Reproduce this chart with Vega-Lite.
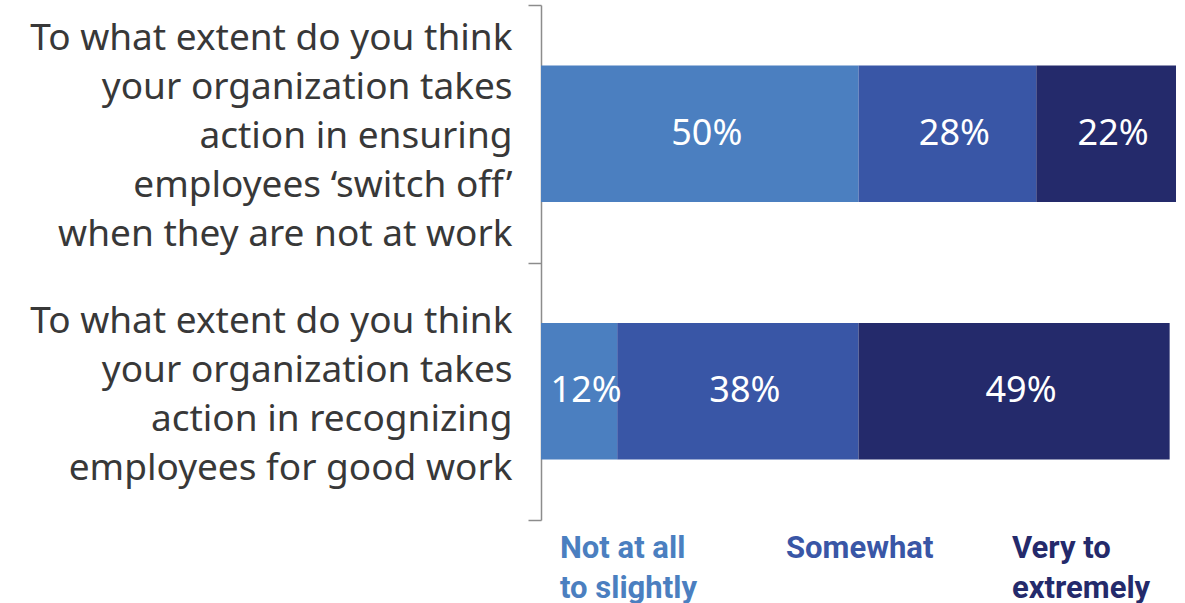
{
  "$schema": "https://vega.github.io/schema/vega-lite/v6.json",
  "width": 635,
  "height": 515,
  "autosize": "none",
  "padding": {"left": 541, "top": 5, "right": 9, "bottom": 83},
  "background": "white",
  "config": {"view": {"stroke": null}},
  "data": {
    "values": [
      {"question": "To what extent do you think\nyour organization takes\naction in ensuring\nemployees ‘switch off’\nwhen they are not at work", "response": "Not at all to slightly", "share": 0.50},
      {"question": "To what extent do you think\nyour organization takes\naction in ensuring\nemployees ‘switch off’\nwhen they are not at work", "response": "Somewhat", "share": 0.28},
      {"question": "To what extent do you think\nyour organization takes\naction in ensuring\nemployees ‘switch off’\nwhen they are not at work", "response": "Very to extremely", "share": 0.22},
      {"question": "To what extent do you think\nyour organization takes\naction in recognizing\nemployees for good work", "response": "Not at all to slightly", "share": 0.12},
      {"question": "To what extent do you think\nyour organization takes\naction in recognizing\nemployees for good work", "response": "Somewhat", "share": 0.38},
      {"question": "To what extent do you think\nyour organization takes\naction in recognizing\nemployees for good work", "response": "Very to extremely", "share": 0.49}
    ]
  },
  "encoding": {
    "y": {
      "field": "question",
      "type": "nominal",
      "sort": null,
      "scale": {"paddingInner": 0, "paddingOuter": 0},
      "axis": {
        "title": null,
        "tickBand": "extent",
        "labelExpr": "split(datum.label, '\\n')",
        "labelFont": "Noto Sans",
        "labelFontSize": 37,
        "labelLineHeight": 49,
        "labelColor": "#383838",
        "labelPadding": 16,
        "labelLimit": 0,
        "labelOffset": {"condition": {"test": "indexof(datum.label, 'ensuring') >= 0", "value": -95}, "value": -70},
        "tickSize": 13,
        "tickColor": "#8c8c8c",
        "tickWidth": 1.5,
        "domainColor": "#8c8c8c",
        "domainWidth": 1.5,
        "grid": false
      }
    }
  },
  "layer": [
    {
      "mark": {"type": "bar", "height": {"band": 0.53}},
      "encoding": {
        "x": {"field": "share", "type": "quantitative", "stack": "zero", "scale": {"domain": [0, 1]}, "axis": null},
        "order": {"field": "response", "sort": "ascending"},
        "color": {
          "field": "response",
          "type": "nominal",
          "scale": {"domain": ["Not at all to slightly", "Somewhat", "Very to extremely"], "range": ["#4b7fc0", "#3956a6", "#242a6b"]},
          "legend": {
            "title": null,
            "orient": "none",
            "legendX": -12,
            "legendY": 513,
            "direction": "horizontal",
            "symbolSize": 0,
            "symbolStrokeWidth": 0,
            "symbolOpacity": 0,
            "labelOffset": 0,
            "labelFont": "Roboto",
            "labelFontSize": 31,
            "labelFontWeight": "bold",
            "labelLimit": 0,
            "labelBaseline": "top",
            "labelLineHeight": 40,
            "labelExpr": "datum.label == 'Not at all to slightly' ? ['Not at all', 'to slightly'] : datum.label == 'Very to extremely' ? ['Very to', 'extremely'] : ['Somewhat', '']",
            "columnPadding": 47,
            "gridAlign": "all",
            "padding": 0,
            "encode": {"labels": {"update": {"fill": {"scale": "color", "field": "value"}, "lineHeight": {"value": 40}}}}
          }
        }
      }
    },
    {
      "mark": {"type": "text", "fill": "white", "font": "Noto Sans", "fontSize": 36, "dx": 7},
      "encoding": {
        "x": {"field": "share", "type": "quantitative", "stack": "zero", "bandPosition": 0.5},
        "order": {"field": "response", "sort": "ascending"},
        "detail": {"field": "response"},
        "text": {"field": "share", "type": "quantitative", "format": ".0%"}
      }
    }
  ]
}
